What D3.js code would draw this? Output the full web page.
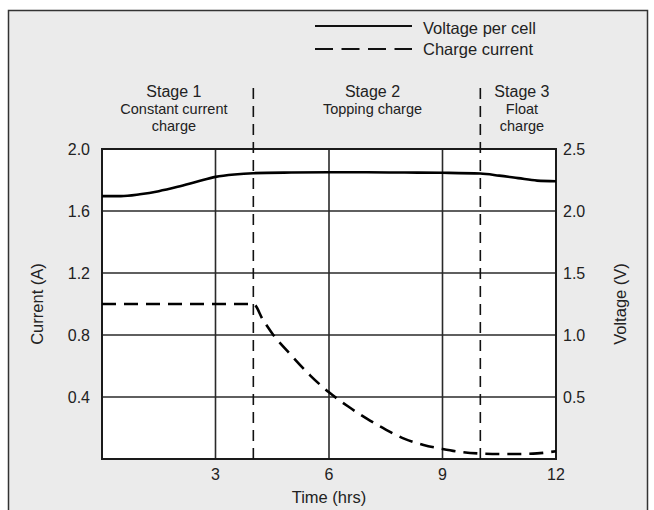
<!DOCTYPE html>
<html>
<head>
<meta charset="utf-8">
<script src="https://cdn.jsdelivr.net/npm/d3@7"></script>
<style>
  body { margin: 0; background: #fff; }
  text { font-family: "Liberation Sans", Arial, sans-serif; fill: #222; }
</style>
</head>
<body>
<script>
// time axis (hrs)
const timeTicks = [3, 6, 9, 12];
const currentTicks = [0.4, 0.8, 1.2, 1.6, 2.0];
const currentLabels = ["0.4", "0.8", "1.2", "1.6", "2.0"];
const voltageTicks = [0.5, 1.0, 1.5, 2.0, 2.5];
const voltageLabels = ["0.5", "1.0", "1.5", "2.0", "2.5"];

// Voltage per cell (V)
const voltTime = [0, 0.5, 1, 1.5, 2, 2.5, 3, 3.5, 4, 5, 6, 7, 8, 9, 10, 10.5, 11, 11.5, 12];
const voltValues = [2.12, 2.12, 2.135, 2.16, 2.195, 2.235, 2.275, 2.295, 2.305, 2.31, 2.312, 2.312, 2.31, 2.308, 2.302, 2.285, 2.265, 2.245, 2.24];

// Charge current (A)
const currTime = [0, 4, 4.25, 4.5, 5, 5.5, 6, 6.5, 7, 7.5, 8, 8.5, 9, 9.5, 10, 10.5, 11, 11.5, 12];
const currValues = [1.0, 1.0, 0.9, 0.81, 0.67, 0.54, 0.43, 0.34, 0.26, 0.19, 0.13, 0.09, 0.065, 0.045, 0.035, 0.032, 0.032, 0.036, 0.05];

// stage boundaries and labels
const stageBounds = [4, 10];
const stages = [
  {t: 1.9, lines: ["Stage 1", "Constant current", "charge"]},
  {t: 7.15, lines: ["Stage 2", "Topping charge"]},
  {t: 11.1, lines: ["Stage 3", "Float", "charge"]}
];

const W = 654, H = 510;
const pLeft = 102, pRight = 556, pTop = 149, pBottom = 459;

const svg = d3.select("body").append("svg")
    .attr("width", W).attr("height", H);

// frame
svg.append("rect")
    .attr("x", 8.5).attr("y", 10.5)
    .attr("width", 639).attr("height", 520)
    .attr("fill", "#ebebeb")
    .attr("stroke", "#333").attr("stroke-width", 1.5);

const x = d3.scaleLinear().domain([0, 12]).range([pLeft, pRight]);
const yA = d3.scaleLinear().domain([0, 2]).range([pBottom, pTop]);
const yV = d3.scaleLinear().domain([0, 2.5]).range([pBottom, pTop]);

svg.append("rect")
    .attr("x", pLeft).attr("y", pTop)
    .attr("width", pRight - pLeft).attr("height", pBottom - pTop)
    .attr("fill", "#fff");

// grid
svg.selectAll(".hgrid")
    .data(currentTicks.slice(0, 4))
    .enter().append("line")
    .attr("x1", pLeft).attr("x2", pRight)
    .attr("y1", d => yA(d)).attr("y2", d => yA(d))
    .attr("stroke", "#2a2a2a").attr("stroke-width", 1.6);

svg.selectAll(".vgrid")
    .data(timeTicks.slice(0, 3))
    .enter().append("line")
    .attr("x1", d => x(d)).attr("x2", d => x(d))
    .attr("y1", pTop).attr("y2", pBottom)
    .attr("stroke", "#2a2a2a").attr("stroke-width", 1.6);

// plot border
svg.append("rect")
    .attr("x", pLeft).attr("y", pTop)
    .attr("width", pRight - pLeft).attr("height", pBottom - pTop)
    .attr("fill", "none")
    .attr("stroke", "#1a1a1a").attr("stroke-width", 2);

// stage dividers
svg.selectAll(".stage")
    .data(stageBounds)
    .enter().append("line")
    .attr("x1", d => x(d)).attr("x2", d => x(d))
    .attr("y1", 88).attr("y2", pBottom)
    .attr("stroke", "#111").attr("stroke-width", 1.6)
    .attr("stroke-dasharray", "11,7");

// curves
const voltLine = d3.line()
    .x((d, i) => x(voltTime[i]))
    .y(d => yV(d))
    .curve(d3.curveMonotoneX);

svg.append("path")
    .attr("d", voltLine(voltValues))
    .attr("fill", "none")
    .attr("stroke", "#000").attr("stroke-width", 2.6);

const currLine = d3.line()
    .x((d, i) => x(currTime[i]))
    .y(d => yA(d))
    .curve(d3.curveMonotoneX);

svg.append("path")
    .attr("d", currLine(currValues))
    .attr("fill", "none")
    .attr("stroke", "#000").attr("stroke-width", 2.6)
    .attr("stroke-dasharray", "14,8");

// axes labels
svg.selectAll(".ltick")
    .data(currentTicks)
    .enter().append("text")
    .attr("x", 90).attr("y", d => yA(d) + 6)
    .attr("text-anchor", "end")
    .style("font-size", "16px")
    .text((d, i) => currentLabels[i]);

svg.selectAll(".rtick")
    .data(voltageTicks)
    .enter().append("text")
    .attr("x", 563).attr("y", d => yV(d) + 6)
    .style("font-size", "16px")
    .text((d, i) => voltageLabels[i]);

svg.selectAll(".xtick")
    .data(timeTicks)
    .enter().append("text")
    .attr("x", d => x(d)).attr("y", 480)
    .attr("text-anchor", "middle")
    .style("font-size", "16px")
    .text(d => d);

svg.append("text")
    .attr("x", x(6)).attr("y", 503)
    .attr("text-anchor", "middle")
    .style("font-size", "16.5px")
    .text("Time (hrs)");

svg.append("text")
    .attr("transform", "translate(43," + ((pTop + pBottom) / 2) + ") rotate(-90)")
    .attr("text-anchor", "middle")
    .style("font-size", "16.5px")
    .text("Current (A)");

svg.append("text")
    .attr("transform", "translate(626," + ((pTop + pBottom) / 2) + ") rotate(-90)")
    .attr("text-anchor", "middle")
    .style("font-size", "16.5px")
    .text("Voltage (V)");

// stage labels
stages.forEach(s => {
    s.lines.forEach((l, i) => {
        svg.append("text")
            .attr("x", x(s.t)).attr("y", 97 + i * 17)
            .attr("text-anchor", "middle")
            .style("font-size", i == 0 ? "16px" : "14.5px")
            .text(l);
    });
});

// legend
const legend = [["Voltage per cell", null], ["Charge current", "18,8.5"]];
legend.forEach((d, i) => {
    const ly = 26 + i * 23;
    svg.append("line")
        .attr("x1", 315).attr("x2", 412)
        .attr("y1", ly).attr("y2", ly)
        .attr("stroke", "#111").attr("stroke-width", 2)
        .attr("stroke-dasharray", d[1]);
    svg.append("text")
        .attr("x", 423).attr("y", 34 + i * 21)
        .style("font-size", "16.5px")
        .text(d[0]);
});
</script>
</body>
</html>
